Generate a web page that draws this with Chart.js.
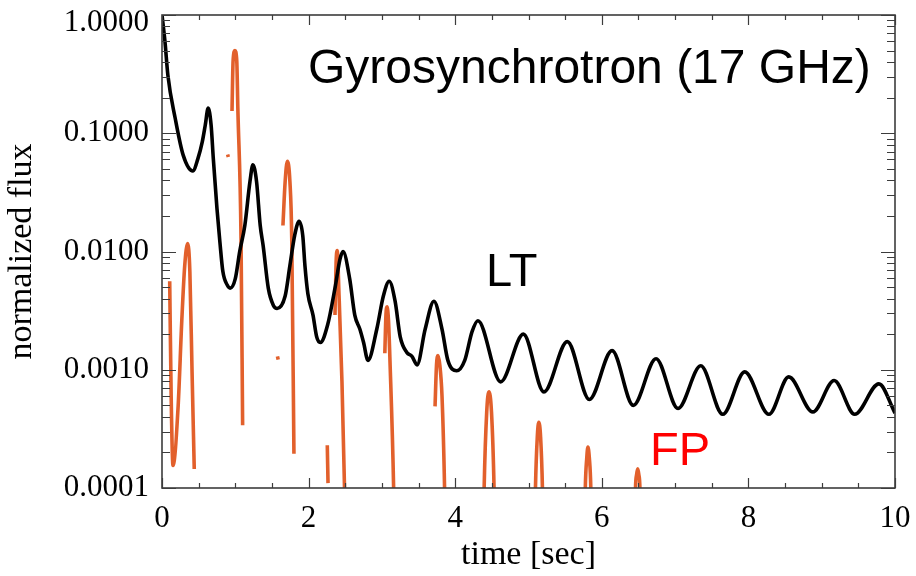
<!DOCTYPE html>
<html>
<head>
<meta charset="utf-8">
<script src="https://cdn.jsdelivr.net/npm/chart.js@4.4.1/dist/chart.umd.min.js"></script>
<style>
  html, body { margin: 0; padding: 0; background: #fff; }
  canvas { display: block; }
</style>
</head>
<body>
<canvas id="chart" width="916" height="576"></canvas>
<script>
// LT (loop top) light curve: at peaks, troughs and shoulders
const ltTime = [0, 0.04, 0.08, 0.18, 0.29, 0.42, 0.49, 0.55, 0.59, 0.63, 0.67, 0.70, 0.75, 0.79, 0.83, 0.89, 0.93,
  1.00, 1.06, 1.13, 1.20, 1.24, 1.29, 1.34, 1.38, 1.45, 1.52, 1.57, 1.68, 1.745, 1.81, 1.87, 1.92, 1.95, 1.99,
  2.06, 2.11, 2.16, 2.26, 2.36, 2.43, 2.47, 2.56, 2.63, 2.70, 2.75, 2.81, 2.93, 3.02, 3.10, 3.18, 3.25, 3.34,
  3.41, 3.48, 3.59, 3.71, 3.82, 3.90, 4.02, 4.13, 4.23, 4.31, 4.62, 4.93, 5.21, 5.53, 5.83, 6.14, 6.43, 6.74,
  7.04, 7.35, 7.65, 7.95, 8.28, 8.55, 8.88, 9.17, 9.45, 9.78, 10.0];
const ltFlux = [1.0, 0.60, 0.31, 0.134, 0.065, 0.048, 0.061, 0.085, 0.117, 0.163, 0.117, 0.061, 0.023, 0.012, 0.0068, 0.0052, 0.0049,
  0.0059, 0.0100, 0.0166, 0.039, 0.054, 0.039, 0.0166, 0.0112, 0.0049, 0.0035, 0.0033, 0.0042, 0.0076, 0.0137, 0.018, 0.0137, 0.0076, 0.0044,
  0.0029, 0.0019, 0.0017, 0.0024, 0.0049, 0.0087, 0.0100, 0.0059, 0.0029, 0.0022, 0.0017, 0.0012, 0.0022, 0.0042, 0.0056, 0.0038, 0.0019, 0.0014,
  0.0013, 0.0011, 0.0022, 0.0038, 0.0022, 0.0012, 0.00098, 0.0012, 0.0021, 0.0026, 0.00079, 0.0020, 0.00065, 0.00173, 0.00056, 0.00145, 0.00050, 0.00124,
  0.00047, 0.00108, 0.00042, 0.00096, 0.00042, 0.00087, 0.00044, 0.00081, 0.00042, 0.00076, 0.00043];

// FP (foot point) curve: pieces separated by null (gaps where the curve is not drawn)
const fpTime = [0.105, 0.125, 0.15, 0.22, 0.27, 0.31, 0.35, 0.38, 0.41, 0.44, 0.6,
  0.895, 0.905, 0.93,
  0.955, 0.97, 0.995, 1.02, 1.035, 1.078, 1.10, 1.3,
  1.575, 1.585, 1.62,
  1.65, 1.68, 1.71, 1.745, 1.77, 1.80, 2.0,
  2.255, 2.265, 2.3,
  2.36, 2.375, 2.39, 2.415, 2.455, 2.49, 2.50, 2.8,
  3.04, 3.055, 3.07, 3.09, 3.11, 3.16, 3.17, 3.4,
  3.725, 3.745, 3.765, 3.79, 3.82, 3.855, 3.865, 4.1,
  4.385, 4.395, 4.43, 4.46, 4.495, 4.53, 4.54, 4.8,
  5.085, 5.095, 5.12, 5.14, 5.165, 5.19, 5.20, 5.5,
  5.765, 5.775, 5.795, 5.81, 5.83, 5.85, 5.86, 6.2,
  6.45, 6.46, 6.475, 6.49, 6.505, 6.52, 6.53];
const fpFlux = [0.0056, 0.0006, 0.000155, 0.00049, 0.0026, 0.0076, 0.0117, 0.0068, 0.00096, 0.000145, null,
  0.066, 0.063, null,
  0.154, 0.41, 0.50, 0.41, 0.16, 0.013, 0.00034, null,
  0.0013, 0.00122, null,
  0.0166, 0.039, 0.058, 0.039, 0.013, 0.000195, null,
  0.00023, 0.00011, null,
  0.0029, 0.008, 0.0102, 0.0043, 0.0008, 0.0001, 0.00004, null,
  0.00138, 0.0029, 0.0034, 0.0026, 0.0012, 0.0001, 0.00004, null,
  0.00049, 0.0011, 0.00132, 0.0011, 0.0006, 0.0001, 0.00004, null,
  0.00004, 0.0001, 0.00044, 0.00065, 0.00044, 0.0001, 0.00004, null,
  0.00004, 0.0001, 0.00027, 0.00036, 0.00027, 0.0001, 0.00004, null,
  0.00004, 0.0001, 0.00018, 0.000222, 0.00018, 0.0001, 0.00004, null,
  0.00004, 0.0001, 0.00013, 0.000145, 0.00013, 0.0001, 0.00004];

const xTicks = [0, 2, 4, 6, 8, 10];
const yTicks = [1, 0.1, 0.01, 0.001, 0.0001];
const yTickLabels = ['1.0000', '0.1000', '0.0100', '0.0010', '0.0001'];

const SERIF = '"Liberation Serif", "DejaVu Serif", serif';
const SANS = '"Liberation Sans", Arial, sans-serif';
const AXIS_COLOR = '#3c3c3c';

// frame, inward tick marks, y labels and the text annotations
const framePlugin = {
  id: 'frame',
  afterDraw(chart) {
    const ctx = chart.ctx;
    const area = chart.chartArea;
    const xs = chart.scales.x;
    const ys = chart.scales.y;
    ctx.save();
    ctx.strokeStyle = AXIS_COLOR;
    ctx.lineWidth = 1.6;
    ctx.strokeRect(area.left, area.top, area.right - area.left, area.bottom - area.top);

    ctx.beginPath();
    for (let v = 0; v <= 10.001; v += 0.5) {
      const px = Math.round(xs.getPixelForValue(v)) + 0.5;
      const len = (Math.abs(v % 2) < 1e-6) ? 10 : 5;
      ctx.moveTo(px, area.bottom); ctx.lineTo(px, area.bottom - len);
      ctx.moveTo(px, area.top); ctx.lineTo(px, area.top + len);
    }
    for (let d = 0.0001; d < 1.5; d *= 10) {
      for (let k = 1; k <= 9; k++) {
        const v = d * k;
        if (v > 1.0001) break;
        const py = Math.round(ys.getPixelForValue(v)) + 0.5;
        const len = k === 1 ? 14 : 8;
        ctx.moveTo(area.left, py); ctx.lineTo(area.left + len, py);
        ctx.moveTo(area.right, py); ctx.lineTo(area.right - len, py);
      }
    }
    ctx.lineWidth = 1.2;
    ctx.stroke();

    ctx.fillStyle = '#000';
    ctx.font = '31px ' + SERIF;
    ctx.textAlign = 'right';
    ctx.textBaseline = 'middle';
    yTicks.forEach((v, i) => {
      const py = Math.max(ys.getPixelForValue(v), area.top + 8);
      ctx.fillText(yTickLabels[i], area.left - 13, py);
    });

    ctx.textAlign = 'left';
    ctx.textBaseline = 'alphabetic';
    ctx.font = '48px ' + SANS;
    ctx.fillText('Gyrosynchrotron (17 GHz)', 308, 83);
    ctx.font = '47px ' + SANS;
    ctx.fillText('LT', 486, 286);
    ctx.fillStyle = '#ff0000';
    ctx.fillText('FP', 650, 465);
    ctx.restore();
  }
};

const ltPoints = ltTime.map((t, i) => ({ x: t, y: ltFlux[i] }));
const fpPoints = fpTime.map((t, i) => ({ x: t, y: fpFlux[i] }));

new Chart(document.getElementById('chart'), {
  type: 'line',
  data: {
    datasets: [
      {
        label: 'LT',
        data: ltPoints,
        borderColor: '#000000',
        borderWidth: 3.6,
        cubicInterpolationMode: 'monotone',
        pointRadius: 0
      },
      {
        label: 'FP',
        data: fpPoints,
        borderColor: '#e2602c',
        borderWidth: 3.6,
        cubicInterpolationMode: 'monotone',
        spanGaps: false,
        pointRadius: 0
      }
    ]
  },
  options: {
    responsive: false,
    animation: false,
    devicePixelRatio: 1,
    layout: { padding: { top: 15, right: 21, left: 0, bottom: 0 } },
    plugins: { legend: { display: false }, tooltip: { enabled: false } },
    scales: {
      x: {
        type: 'linear',
        min: 0,
        max: 10,
        grid: { display: false, drawTicks: false },
        border: { display: false },
        afterBuildTicks: s => { s.ticks = xTicks.map(v => ({ value: v })); },
        ticks: {
          color: '#000',
          font: { family: SERIF, size: 31 },
          padding: 12,
          maxRotation: 0,
          autoSkip: false,
          callback: v => String(v)
        },
        title: {
          display: true,
          text: 'time [sec]',
          color: '#000',
          font: { family: SERIF, size: 34 },
          padding: { top: 0, bottom: 1 }
        },
        afterFit: s => {
          s.height = 88;
          s.paddingLeft = 0;
          s.paddingRight = 0;
        }
      },
      y: {
        type: 'logarithmic',
        min: 0.0001,
        max: 1,
        grid: { display: false, drawTicks: false },
        border: { display: false },
        afterBuildTicks: s => { s.ticks = yTicks.map(v => ({ value: v })); },
        ticks: { display: false },
        title: {
          display: true,
          text: 'normalized flux',
          color: '#000',
          font: { family: SERIF, size: 34 },
          padding: { top: 2, bottom: 0 }
        },
        afterFit: s => {
          s.width = 162;
          s.paddingTop = 0;
          s.paddingBottom = 0;
        }
      }
    }
  },
  plugins: [framePlugin]
});
</script>
</body>
</html>
